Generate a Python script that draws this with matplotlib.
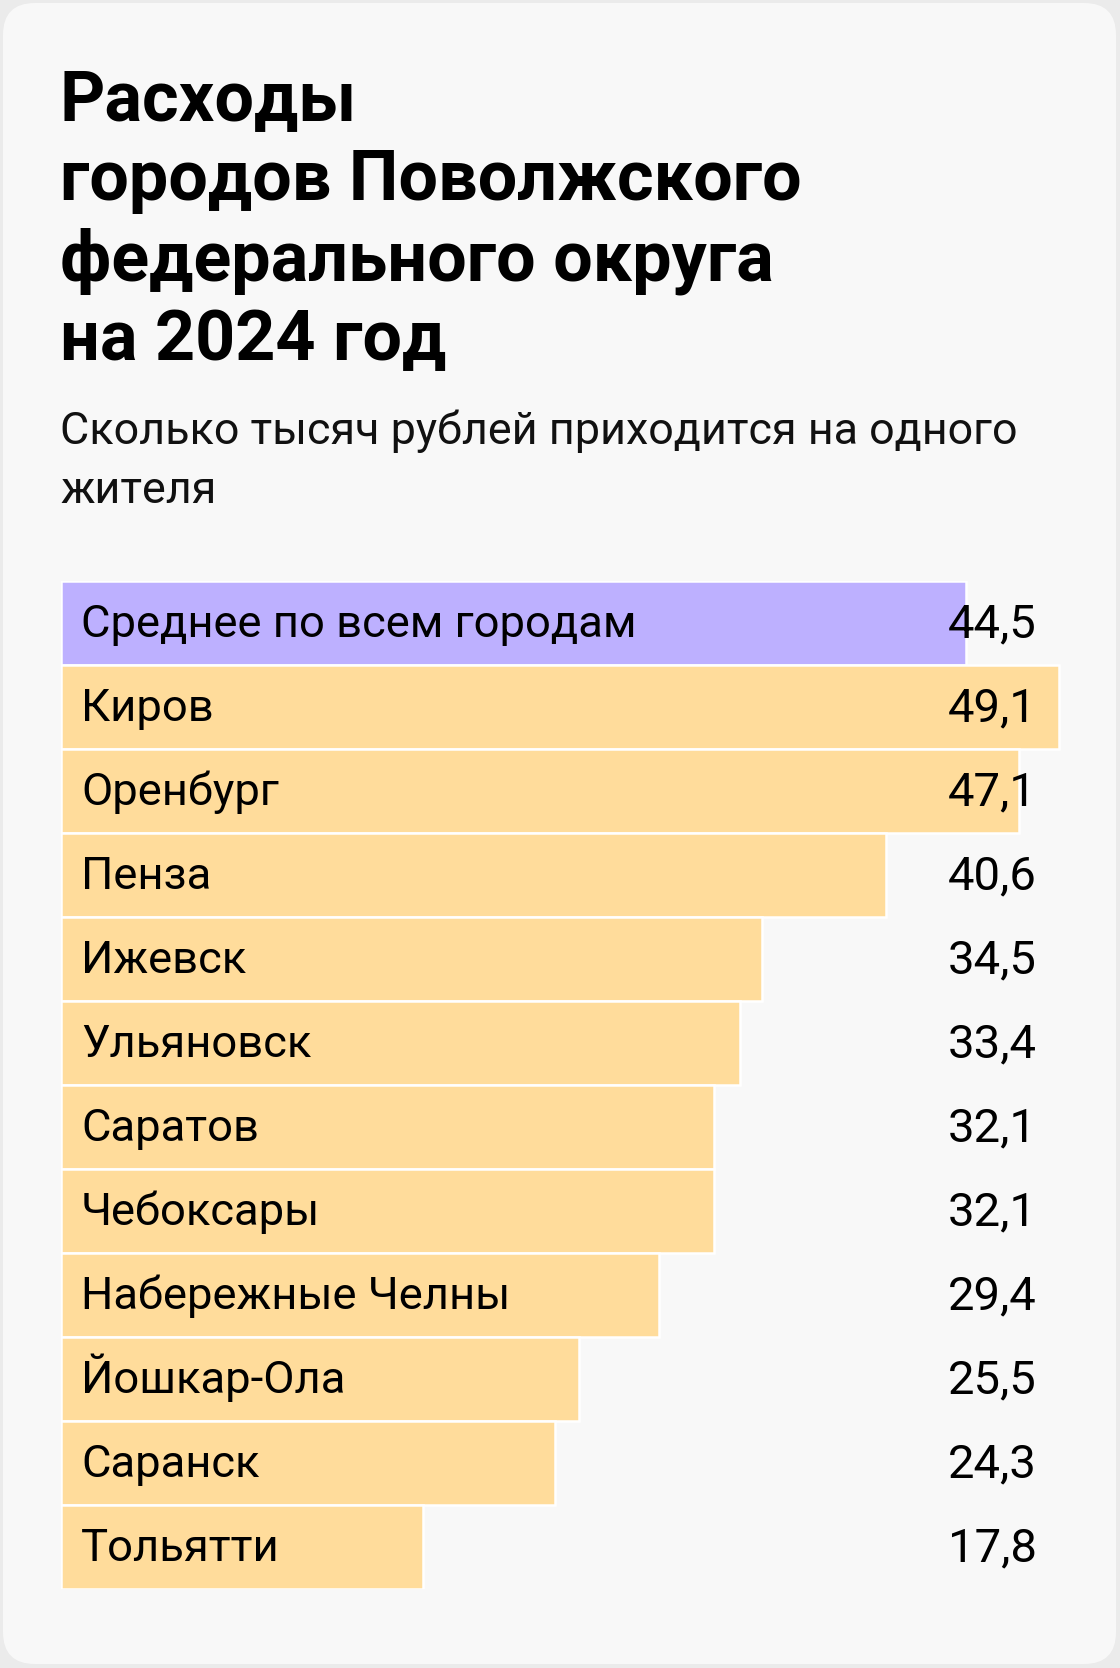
import matplotlib
matplotlib.use("Agg")
import matplotlib.pyplot as plt
from matplotlib.patches import FancyBboxPatch
from matplotlib.transforms import blended_transform_factory

plt.rcParams['font.family'] = ['Roboto', 'DejaVu Sans']

title_lines = ["Расходы", "городов Поволжского", "федерального округа", "на 2024 год"]
subtitle_lines = ["Сколько тысяч рублей приходится на одного", "жителя"]

cities = ["Среднее по всем городам", "Киров", "Оренбург", "Пенза", "Ижевск",
          "Ульяновск", "Саратов", "Чебоксары", "Набережные Челны",
          "Йошкар-Ола", "Саранск", "Тольятти"]
values = [44.5, 49.1, 47.1, 40.6, 34.5, 33.4, 32.1, 32.1, 29.4, 25.5, 24.3, 17.8]

W, H = 1120, 1668
fig = plt.figure(figsize=(W / 100, H / 100), dpi=100)
fig.patch.set_facecolor('#ebebeb')

# background card, drawn in pixel coordinates
bg = fig.add_axes([0, 0, 1, 1], zorder=-1)
bg.set_xlim(0, W)
bg.set_ylim(H, 0)
bg.axis('off')
card = FancyBboxPatch((3, 3), W - 7, H - 7, boxstyle="round,pad=0,rounding_size=32",
                      fc='#f8f8f8', ec='none')
bg.add_patch(card)

for i, line in enumerate(title_lines):
    bg.text(60, 120 + 80 * i, line, fontsize=50.5, fontweight='bold',
            color='black', va='baseline', ha='left')
for i, line in enumerate(subtitle_lines):
    bg.text(60, 444 + 59 * i, line, fontsize=32.3, color='#111111',
            va='baseline', ha='left')

# bars
x0, top, pitch, scale = 61, 581, 84, 20.33
ax_w = 1000
ax = fig.add_axes([x0 / W, 1 - (top + pitch * len(cities)) / H,
                   ax_w / W, pitch * len(cities) / H])
ax.set_facecolor('none')
colors = ['#bdb0ff'] + ['#ffdc9b'] * (len(cities) - 1)
ypos = list(range(len(cities)))
ax.barh(ypos, values, height=1.0, color=colors, edgecolor='white', linewidth=1.8)
ax.set_xlim(0, ax_w / scale)
ax.set_ylim(len(cities) - 0.5, -0.5)
ax.axis('off')

tr = blended_transform_factory(ax.transAxes, ax.transData)
for i, (c, v) in enumerate(zip(cities, values)):
    ax.text(0.02, i + 0.17, c, transform=tr, fontsize=32.7, va='baseline', ha='left')
    ax.text(0.887, i + 0.17, f"{v:.1f}".replace('.', ','), transform=tr,
            fontsize=34, va='baseline', ha='left')

fig.savefig('out.png', dpi=100, facecolor=fig.get_facecolor())
